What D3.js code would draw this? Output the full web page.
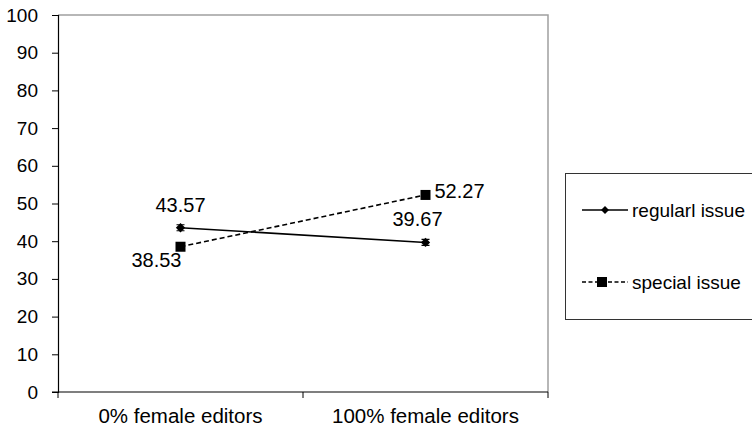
<!DOCTYPE html>
<html><head><meta charset="utf-8">
<script src="https://cdn.jsdelivr.net/npm/d3@7"></script>
<style>body{margin:0;background:#fff}svg{display:block;font-family:"Liberation Sans",Arial,sans-serif}</style>
</head><body>
<svg id="c" width="752" height="430"></svg>
<script>
const categories = ["0% female editors", "100% female editors"];
const seriesNames = ["regularl issue", "special issue"];
const regularValues = [43.57, 39.67];
const specialValues = [38.53, 52.27];
const regularErr = [0.8, 0.8];
const yTicks = [0,10,20,30,40,50,60,70,80,90,100];

const svg = d3.select("#c");
const L=58, R=548, T=15, B=392;
const x = d3.scaleBand().domain(categories).range([L,R]);
const y = d3.scaleLinear().domain([0,100]).range([B,T]);
const cx = c => x(c)+x.bandwidth()/2;

svg.append("path").attr("d",`M${L},${T}H${R}V${B}`).attr("fill","none").attr("stroke","#a0a0a0").attr("stroke-width",1.5);

const ya = svg.append("g").attr("transform",`translate(${L},0)`)
  .call(d3.axisLeft(y).tickValues(yTicks).tickSize(6).tickPadding(14));
ya.select(".domain").attr("stroke","#000").attr("stroke-width",1.2);
ya.selectAll("line").attr("stroke","#000");
ya.selectAll("text").attr("font-size",19).attr("fill","#000").attr("font-family","Liberation Sans, Arial, sans-serif");

svg.append("line").attr("x1",L-6).attr("x2",R).attr("y1",B).attr("y2",B).attr("stroke","#000").attr("stroke-width",1.2);
const bt=[L, x(categories[1]), R];
svg.selectAll(".bt").data(bt).enter().append("line").attr("x1",d=>d).attr("x2",d=>d).attr("y1",B).attr("y2",B+6).attr("stroke","#000");
svg.selectAll(".cl").data(categories).enter().append("text")
  .attr("x",d=>cx(d)).attr("y",423).attr("text-anchor","middle").attr("font-size",20.5).text(d=>d);

const line = d3.line().x((d,i)=>cx(categories[i])).y(d=>y(d));
svg.append("path").datum(regularValues).attr("d",line).attr("fill","none").attr("stroke","#000").attr("stroke-width",1.6);
svg.append("path").datum(specialValues).attr("d",line).attr("fill","none").attr("stroke","#000").attr("stroke-width",1.6).attr("stroke-dasharray","5,3");

regularValues.forEach((v,i)=>{
  const px=cx(categories[i]);
  svg.append("path").attr("d",`M${px},${y(v+regularErr[i])}V${y(v-regularErr[i])}M${px-4},${y(v+regularErr[i])}H${px+4}M${px-4},${y(v-regularErr[i])}H${px+4}`).attr("stroke","#000").attr("stroke-width",1.2);
});
const diamond = d3.symbol().type(d3.symbolDiamond2).size(55);
svg.selectAll(".rm").data(regularValues).enter().append("path")
  .attr("d",diamond).attr("transform",(d,i)=>`translate(${cx(categories[i])},${y(d)})`).attr("fill","#000");
svg.selectAll(".sm").data(specialValues).enter().append("rect")
  .attr("x",(d,i)=>cx(categories[i])-5).attr("y",d=>y(d)-5).attr("width",10).attr("height",10).attr("fill","#000");

const fmt = d3.format(".2f");
svg.append("text").attr("x",cx(categories[0])).attr("y",y(regularValues[0])-16).attr("text-anchor","middle").attr("font-size",20).text(fmt(regularValues[0]));
svg.append("text").attr("x",cx(categories[1])-8).attr("y",y(regularValues[1])-16).attr("text-anchor","middle").attr("font-size",20).text(fmt(regularValues[1]));
svg.append("text").attr("x",cx(categories[0])+1).attr("y",y(specialValues[0])+20).attr("text-anchor","end").attr("font-size",20).text(fmt(specialValues[0]));
svg.append("text").attr("x",cx(categories[1])+9).attr("y",y(specialValues[1])+3).attr("text-anchor","start").attr("font-size",20).text(fmt(specialValues[1]));

svg.append("rect").attr("x",565.5).attr("y",173.5).attr("width",200).attr("height",146).attr("fill","#fff").attr("stroke","#333").attr("stroke-width",1);
const lg = [{n:seriesNames[0],y:210,dash:null},{n:seriesNames[1],y:282,dash:"4,2.5"}];
lg.forEach((d,i)=>{
  svg.append("line").attr("x1",582).attr("x2",628).attr("y1",d.y).attr("y2",d.y).attr("stroke","#000").attr("stroke-width",1.6).attr("stroke-dasharray",d.dash);
  if(i==0) svg.append("path").attr("d",d3.symbol().type(d3.symbolDiamond2).size(40)).attr("transform",`translate(605,${d.y})`).attr("fill","#000");
  else svg.append("rect").attr("x",597).attr("y",d.y-5).attr("width",10).attr("height",10).attr("fill","#000");
  svg.append("text").attr("x",632).attr("y",d.y+7).attr("font-size",19).text(d.n);
});
</script>
</body></html>
